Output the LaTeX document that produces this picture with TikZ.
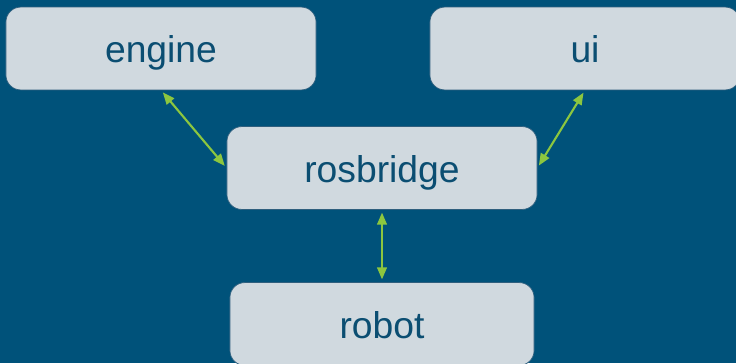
\documentclass[tikz,border=0pt]{standalone}
\usepackage{fontspec}
\setmainfont{Liberation Sans}
\usetikzlibrary{arrows.meta}

\definecolor{bgblue}{HTML}{00527A}
\definecolor{boxgray}{HTML}{D0D9DF}
\definecolor{boxline}{HTML}{2F5F7E}
\definecolor{textblue}{HTML}{0B4E72}
\definecolor{linkgreen}{HTML}{8CC63F}

\begin{document}
\begin{tikzpicture}[x=0.025cm, y=-0.025cm,
		box/.style={draw=boxline, line width=0.5pt, rounded corners=0.37cm, fill=boxgray,
			text=textblue, font=\fontsize{26.5}{30}\selectfont,
			text height=20.6pt, text depth=0pt,
			minimum width=7.75cm, minimum height=2.07cm, inner sep=0pt},
		link/.style={linkgreen, line width=1.5pt, {Triangle[length=0.3cm, width=0.24cm]}-{Triangle[length=0.3cm, width=0.24cm]}, shorten <=2pt, shorten >=2pt}]
		\fill[bgblue] (0,0) rectangle (736,363);
		\clip (0,0) rectangle (736,363);
		\node[box] (engine) at (161,48.5) {engine};
		\node[box] (ui) at (585,48.5) {ui};
		\node[box] (rosbridge) at (382,168) {rosbridge};
		\node[box, minimum width=7.6cm] (robot) at (382,324) {robot};
		
		\draw[link] (engine.south) -- (rosbridge.west);
		\draw[link] (ui.south) -- (rosbridge.east);
		\draw[link] (rosbridge.south) -- (robot.north);
	\end{tikzpicture}
\end{document}
